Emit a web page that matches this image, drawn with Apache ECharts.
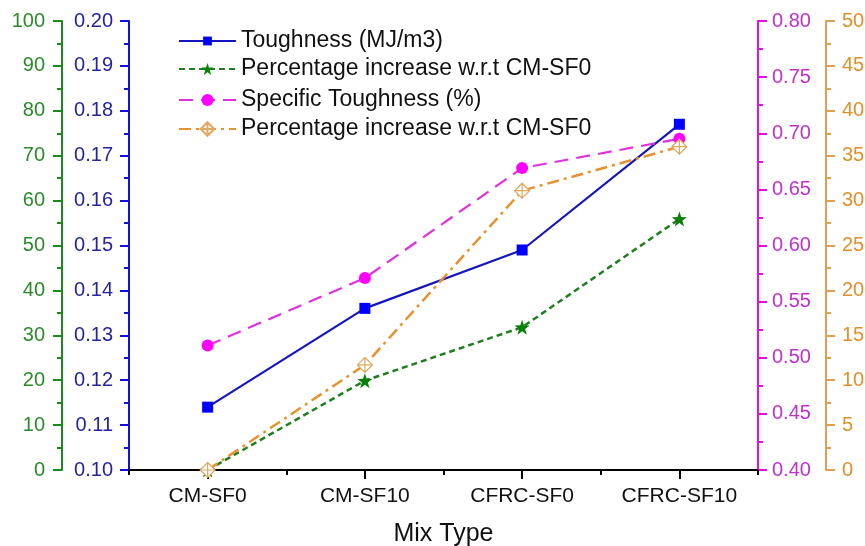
<!DOCTYPE html>
<html>
<head>
<meta charset="utf-8">
<script src="https://cdn.jsdelivr.net/npm/echarts@6/dist/echarts.min.js"></script>
<style>html,body{margin:0;padding:0;background:#fff}#c{width:865px;height:546px}</style>
</head>
<body>
<div id="c"></div>
<script>
const categories = ['CM-SF0', 'CM-SF10', 'CFRC-SF0', 'CFRC-SF10'];
const toughness = [0.114, 0.136, 0.149, 0.177];
const pctIncrease = [0, 19.9, 31.8, 55.9];
const specificToughness = [0.511, 0.571, 0.669, 0.695];
const pctIncreaseSpecific = [0, 11.7, 31.1, 36.0];

const blueRange = [0.10, 0.20, 0.01];
const greenRange = [0, 100, 10];
const magentaRange = [0.40, 0.80, 0.05];
const orangeRange = [0, 50, 5];

const seriesNames = ['Toughness (MJ/m3)', 'Percentage increase w.r.t CM-SF0', 'Specific Toughness (%)', 'Percentage increase w.r.t CM-SF0 '];

const FONT = 'Liberation Sans';
const STAR = 'path://M10,0 L12.35,6.76 L19.51,6.91 L13.8,11.24 L15.88,18.09 L10,14 L4.12,18.09 L6.2,11.24 L0.49,6.91 L7.65,6.76 Z';
const DIAMOND = 'path://M10,0 L20,10 L10,20 L0,10 Z M10,0 L10,20 M0,10 L20,10';

function yAxis(range, pos, offset, lineColor, labelColor, digits, margin) {
  return {
    type: 'value', position: pos, offset: offset,
    min: range[0], max: range[1], interval: range[2],
    axisLine: {show: true, lineStyle: {color: lineColor, width: 2}},
    axisTick: {show: true, inside: false, length: 9, lineStyle: {color: lineColor, width: 2}},
    minorTick: {show: true, splitNumber: 2, length: 5, lineStyle: {color: lineColor, width: 2}},
    splitLine: {show: false},
    axisLabel: {color: labelColor, fontSize: 20, fontFamily: FONT, margin: margin,
      formatter: v => v.toFixed(digits)}
  };
}

// legend rows: centre y and icon height (symbol = 80% of icon height)
const legendRows = [[35, 11], [65, 15], [96, 15], [126, 17]];
const legends = seriesNames.map((n, i) => ({
  orient: 'vertical', left: 178, top: legendRows[i][0] - legendRows[i][1] / 2,
  padding: 0, itemWidth: 57, itemHeight: legendRows[i][1],
  textStyle: {fontSize: 23, fontFamily: FONT, color: '#111'},
  data: [n]
}));

const chart = echarts.init(document.getElementById('c'));
chart.setOption({
  animation: false,
  backgroundColor: '#fff',
  grid: {left: 129, right: 107, top: 21, bottom: 76, containLabel: false, outerBoundsMode: 'none'},
  legend: legends,
  xAxis: [
    {
      type: 'category', data: categories, boundaryGap: true,
      axisLine: {show: true, lineStyle: {color: '#000', width: 2}},
      axisTick: {show: true, alignWithLabel: true, length: 9, lineStyle: {color: '#000', width: 2}},
      axisLabel: {color: '#111', fontSize: 21, fontFamily: FONT, margin: 16},
      name: 'Mix Type', nameLocation: 'middle', nameGap: 52,
      nameTextStyle: {color: '#111', fontSize: 25, fontFamily: FONT}
    },
    {
      type: 'category', data: categories, boundaryGap: true, position: 'bottom',
      axisLine: {show: false},
      axisTick: {show: true, length: 5, lineStyle: {color: '#000', width: 2}},
      axisLabel: {show: false}
    }
  ],
  yAxis: [
    yAxis(blueRange, 'left', 0, '#1010e0', '#24249e', 2, 16),
    yAxis(greenRange, 'left', 67, '#1a8a1a', '#2a8a2a', 0, 17),
    yAxis(magentaRange, 'right', 0, '#e010e0', '#c030d0', 2, 14),
    yAxis(orangeRange, 'right', 68, '#e0a050', '#e0902a', 0, 16)
  ],
  series: [
    {
      name: seriesNames[0], type: 'line', data: toughness, yAxisIndex: 0,
      symbol: 'rect', symbolSize: 11,
      lineStyle: {color: '#1515c0', width: 2.2, type: 'solid'},
      itemStyle: {color: '#0000ff'}
    },
    {
      name: seriesNames[1], type: 'line', data: pctIncrease, yAxisIndex: 1,
      symbol: STAR, symbolSize: 15,
      lineStyle: {color: '#1f7f1f', width: 2.5, type: [6, 4]},
      itemStyle: {color: '#0a800a'}
    },
    {
      name: seriesNames[2], type: 'line', data: specificToughness, yAxisIndex: 2,
      symbol: 'circle', symbolSize: 12,
      lineStyle: {color: '#e030e0', width: 2.2, type: [14, 8]},
      itemStyle: {color: '#ff00ff'}
    },
    {
      name: seriesNames[3], type: 'line', data: pctIncreaseSpecific, yAxisIndex: 3,
      symbol: DIAMOND, symbolSize: 15,
      lineStyle: {color: '#e8922e', width: 2.5, type: [12, 5, 3, 5]},
      itemStyle: {color: '#fff', borderColor: '#e0a860', borderWidth: 1.2}
    }
  ]
});
</script>
</body>
</html>
